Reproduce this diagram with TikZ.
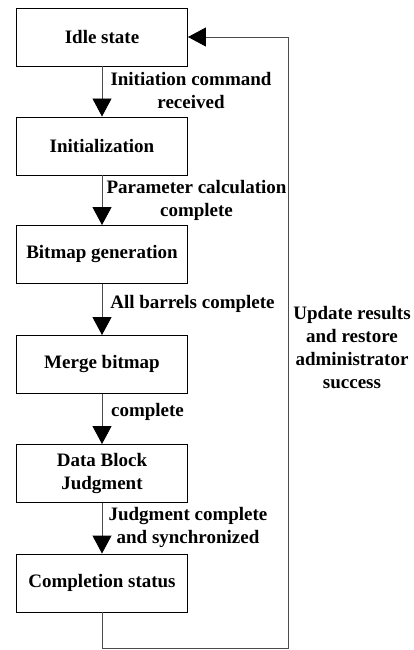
\documentclass[tikz,border=0pt]{standalone}
\usepackage{fontspec}
\setmainfont{Liberation Serif}
\usetikzlibrary{arrows.meta}
\begin{document}
\begin{tikzpicture}[x=1pt,y=-1pt,
  statebox/.style={draw=black,line width=0.9pt,rectangle,minimum width=171pt,minimum height=58pt,
    align=center,inner sep=0pt,font=\fontsize{19}{23}\selectfont\bfseries},
  flow/.style={draw=black!70,line width=0.9pt,-{Triangle[length=18pt,width=19pt,color=black]}},
  lbl/.style={align=center,inner sep=0pt,font=\fontsize{19}{23}\selectfont\bfseries}]
  \useasboundingbox (0,0) rectangle (414,650);

  % states
  \node[statebox] (idle) at (102,37) {Idle state};
  \node[statebox] (init) at (102,146) {Initialization};
  \node[statebox] (bitmap) at (102,254.5) {Bitmap generation};
  \node[statebox] (merge) at (102,364.5) {Merge bitmap};
  \node[statebox] (judge) at (102,473.5) {Data Block\\Judgment};
  \node[statebox] (done) at (102,583) {Completion status};

  % transitions
  \draw[flow] (idle) -- (init);
  \draw[flow] (init) -- (bitmap);
  \draw[flow] (bitmap) -- (merge);
  \draw[flow] (merge) -- (judge);
  \draw[flow] (judge) -- (done);

  % return path to the idle state
  \coordinate (c1) at (102,648.5);
  \coordinate (c2) at (288,648.5);
  \coordinate (c3) at (288,37);
  \draw[flow] (done.south) -- (c1) -- (c2) -- (c3) -- (idle.east);

  % transition labels
  \node[lbl] (l1) at (191,90.5) {Initiation command\\received};
  \node[lbl] (l2) at (196.5,200.5) {Parameter calculation\\complete};
  \node[lbl] (l3) at (192.5,304) {All barrels complete};
  \node[lbl] (l4) at (147.5,412) {complete};
  \node[lbl] (l5) at (188,527) {Judgment complete\\and synchronized};
  \node[lbl] (l6) at (352,347.5) {Update results\\and restore\\administrator\\success};
\end{tikzpicture}
\end{document}
